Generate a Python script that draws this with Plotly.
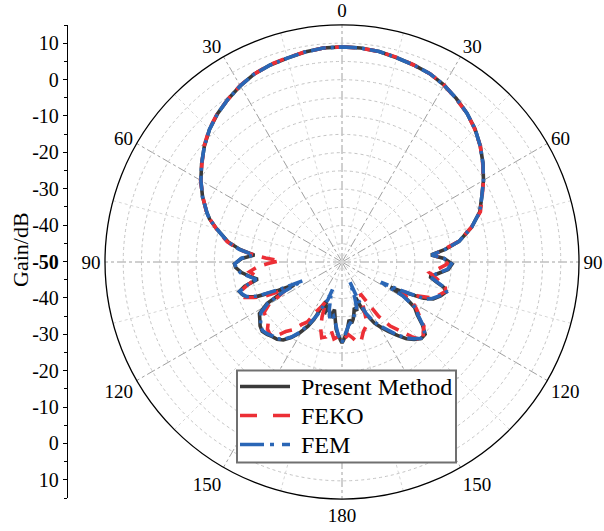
import plotly.graph_objects as go

# ---------------- data (theta in degrees, clockwise from top; gain in dB) ----------------
pm_theta = [0, 5, 10, 15, 20, 25, 30, 35, 40, 45, 50, 55, 60, 65, 70, 75, 80, 83, 85.5, 88, 91, 94, 97, 99.5,
            102, 104, 106, 109, 112, 114, 116, 117.5, 119, 122, 125, 128, 131, 134, 137, 140, 143, 146, 149,
            152, 155, 157, 159, 161, 163, 165, 167, 169, 171, 173, 175, 177, 179, 180,
            181, 183, 185, 187, 189, 191, 193, 195, 197, 199, 201.5, 204, 206, 208, 211, 214, 217, 220, 223,
            226, 229, 232, 235, 238, 241, 243, 244.5, 246, 248, 250, 252, 254, 256, 258.5, 261, 264, 267,
            269, 272, 274.5, 277, 280, 285, 288, 290, 295, 300, 305, 310, 315, 320, 325, 330, 335, 340, 345,
            350, 355, 360]
pm_gain = [9.0, 8.9, 8.6, 8.0, 7.5, 7.0, 6.0, 4.7, 3.3, 1.6, -0.5, -2.8, -5.2, -7.7, -9.8, -13.2, -17.4, -21.5,
           -25.5, -22.0, -19.8, -20.8, -23.6, -25.6, -23.5, -21.2, -20.3, -21.4, -23.0, -25.5, -31.0, -35.0,
           -30.5, -26.5, -24.8, -22.0, -19.8, -19.8, -21.0, -22.5, -24.8, -27.0, -29.0, -31.0, -34.0, -36.5,
           -39.5, -38.0, -36.0, -37.0, -35.5, -34.0, -33.0, -34.0, -32.0, -30.0, -28.5, -27.8,
           -28.5, -30.0, -31.5, -34.5, -36.8, -34.4, -35.5, -36.5, -36.8, -35.0, -38.5, -37.0, -32.5, -30.0,
           -27.2, -25.0, -23.2, -22.3, -22.0, -21.4, -21.0, -21.5, -22.5, -23.3, -26.5, -31.5, -35.5, -31.0,
           -24.5, -22.0, -21.2, -20.7, -22.5, -26.4, -24.5, -22.3, -20.8, -20.5, -22.5, -25.9, -21.8, -18.3,
           -14.3, -11.8, -10.6, -7.8, -5.3, -3.0, -0.7, 1.4, 3.1, 4.5, 5.8, 6.9, 7.5, 7.9, 8.5, 8.9, 9.0]

feko_theta = [0, 5, 10, 15, 20, 25, 30, 35, 40, 45, 50, 55, 60, 65, 70, 75, 80, 83, 85.5, 88, 91, 94, 97, 99.5,
              102, 104, 106, 109, 112, 114, 116, 118, 120, 122, 125, 128, 131, 134, 137, 140, 143, 146, 148,
              150, 152, 155, 157, 160, 163, 166, 169, 172, 175, 178, 180,
              183, 186, 189, 192, 195, 198, 200, 202, 204, 207, 210, 213, 216, 219, 222, 225, 228, 231, 234,
              237, 240, 242, 244, 246, 248, 250, 252, 254, 256, 258.5, 261, 264, 267, 269, 271, 273, 275, 277,
              280, 285, 288, 290, 295, 300, 305, 310, 315, 320, 325, 330, 335, 340, 345, 350, 355, 360]
feko_gain = [9.0, 8.9, 8.6, 8.1, 7.5, 7.0, 6.0, 4.6, 3.3, 1.5, -0.5, -2.9, -5.2, -7.6, -9.6, -13.3, -17.5, -21.8,
             -25.0, -22.5, -21.0, -23.5, -25.8, -24.0, -22.0, -20.8, -20.5, -22.0, -24.0, -27.0, -31.5, -30.5,
             -27.5, -26.0, -24.0, -21.5, -20.5, -19.0, -22.0, -25.5, -28.0, -32.0, -37.0, -40.0, -38.0, -36.0,
             -33.0, -31.0, -30.0, -28.0, -27.5, -29.0, -30.0, -29.0, -28.5,
             -29.5, -28.8, -31.0, -29.0, -28.5, -31.0, -34.0, -38.5, -37.0, -35.0, -31.0, -29.5, -27.0, -25.5,
             -22.5, -22.0, -22.5, -24.0, -24.3, -24.5, -27.0, -31.0, -33.0, -27.0, -24.0, -21.5, -21.0, -21.2,
             -23.0, -25.5, -26.0, -24.5, -27.0, -30.0, -33.0, -29.0, -25.0, -21.5, -18.0, -14.2, -11.9, -10.5,
             -7.9, -5.2, -3.1, -0.6, 1.5, 3.2, 4.5, 5.9, 6.9, 7.6, 8.0, 8.5, 8.9, 9.0]

fem_theta = [0, 5, 10, 15, 20, 25, 30, 35, 40, 45, 50, 55, 60, 65, 70, 75, 80, 83, 85.5, 88, 91, 94, 97, 99.5,
             102, 104, 106, 109, 112, 114, 116, 117.5, 119, 122, 125, 128, 131, 134, 137, 140, 143, 146, 149,
             152, 155, 157, 158.5, 160, 162, 165, 168, 171, 174, 177, 180,
             183, 186, 189, 192, 195, 198, 199, 200.5, 202.5, 205, 208, 211, 214, 217, 220, 223, 226, 229,
             232, 235, 238, 241, 243, 244.5, 246, 248, 250, 252, 254, 256, 258.5, 261, 264, 267, 269, 272,
             274.5, 277, 280, 285, 288, 290, 295, 300, 305, 310, 315, 320, 325, 330, 335, 340, 345, 350, 355, 360]
fem_gain = [9.0, 8.9, 8.6, 8.0, 7.5, 7.0, 6.0, 4.7, 3.3, 1.6, -0.5, -2.8, -5.2, -7.7, -9.8, -13.2, -17.4, -21.5,
            -25.3, -22.0, -20.0, -21.0, -23.8, -25.4, -23.2, -21.0, -20.2, -21.6, -23.3, -25.0, -33.0, -38.0,
            -31.0, -26.0, -24.5, -21.8, -19.9, -19.9, -21.2, -22.8, -25.0, -27.5, -29.5, -31.5, -34.5, -39.0,
            -44.0, -40.0, -37.0, -36.0, -34.5, -33.5, -32.5, -30.5, -28.0,
            -30.0, -33.0, -35.0, -34.0, -36.5, -40.0, -42.0, -39.0, -37.5, -34.0, -30.5, -27.5, -25.2, -23.5,
            -22.5, -22.2, -21.6, -21.2, -21.6, -22.8, -23.8, -26.8, -32.0, -38.0, -32.5, -25.0, -22.2, -21.3,
            -20.8, -22.7, -26.0, -24.3, -22.0, -20.9, -20.6, -22.3, -25.6, -21.6, -18.2, -14.3, -11.8, -10.6,
            -7.8, -5.3, -3.0, -0.7, 1.4, 3.1, 4.5, 5.8, 6.9, 7.5, 7.9, 8.5, 8.9, 9.0]

series_names = ["Present Method", "FEKO", "FEM"]

angle_ticks = [0, 30, 60, 90, 120, 150, 180, 210, 240, 270, 300, 330]
angle_labels = ["0", "30", "60", "90", "120", "150", "180", "150", "120", "90", "60", "30"]
minor_spokes = [15, 45, 75, 105, 135, 165, 195, 225, 255, 285, 315, 345]
radial_grid = [-45, -40, -35, -30, -25, -20, -15, -10, -5, 0, 5, 10]

gain_tickvals = [-60, -50, -40, -30, -20, -10, 0, 10, 20, 30, 40, 50, 60]
gain_ticktext = ["10", "0", "-10", "-20", "-30", "-40", "<b>-50</b>", "-40", "-30", "-20", "-10", "0", "10"]
gain_minor = [-65, -55, -45, -35, -25, -15, -5, 5, 15, 25, 35, 45, 55, 65]

# ---------------- figure ----------------
W, H = 604, 531
FONT = "Liberation Serif"
R_MIN, R_MAX = -50, 15

colors = ["#3a3a3a", "#ec2f36", "#2a66b6"]
dashes_plot = ["solid", "13px,9px", "15px,5px,3px,5px"]
dashes_leg = ["solid", "17px,16px", "24px,6px,4px,8px"]

fig = go.Figure()

# minor (15 deg) spokes
for a in minor_spokes:
    fig.add_trace(go.Scatterpolar(r=[R_MIN, R_MAX], theta=[a, a], mode="lines",
                                  line=dict(color="#d6d6d6", width=1, dash="dot"),
                                  showlegend=False, hoverinfo="skip"))

for th, g, name, c, d in zip([pm_theta, feko_theta, fem_theta], [pm_gain, feko_gain, fem_gain],
                             series_names, colors, dashes_plot):
    fig.add_trace(go.Scatterpolar(r=g, theta=th, mode="lines", name=name,
                                  line=dict(color=c, width=3.6, dash=d), showlegend=False))

# invisible cartesian trace to show the left Gain axis
fig.add_trace(go.Scatter(x=[0], y=[0], mode="markers", marker=dict(opacity=0),
                         showlegend=False, hoverinfo="skip", xaxis="x", yaxis="y"))

cx, cy, rad = 342, 262, 237
fig.update_layout(
    width=W, height=H,
    margin=dict(l=0, r=0, t=0, b=0),
    paper_bgcolor="white", plot_bgcolor="white",
    font=dict(family=FONT, size=20, color="black"),
    polar=dict(
        domain=dict(x=[(cx - rad) / W, (cx + rad) / W], y=[1 - (cy + rad) / H, 1 - (cy - rad) / H]),
        bgcolor="white",
        angularaxis=dict(rotation=90, direction="clockwise", tickmode="array",
                         tickvals=angle_ticks, ticktext=angle_labels, ticks="",
                         showline=True, linecolor="black", linewidth=1.3,
                         gridcolor="#a0a0a0", griddash="dashdot", gridwidth=1,
                         tickfont=dict(family=FONT, size=19, color="black")),
        radialaxis=dict(range=[R_MIN, R_MAX], tickmode="array", tickvals=radial_grid,
                        showticklabels=False, ticks="", showline=False,
                        gridcolor="#c4c4c4", griddash="dot", gridwidth=1),
    ),
    xaxis=dict(domain=[0, 0.05], visible=False, range=[-1, 1]),
    yaxis=dict(domain=[1 - 498 / H, 1 - 25 / H], range=[-65, 65], anchor="free", position=67 / W,
               tickmode="array", tickvals=gain_tickvals, ticktext=gain_ticktext,
               ticks="outside", ticklen=4, tickwidth=1.2, tickcolor="black",
               showline=True, linecolor="black", linewidth=1.3, showgrid=False, zeroline=False,
               tickfont=dict(family=FONT, size=20, color="black"),
               minor=dict(tickvals=gain_minor, ticks="outside", ticklen=3, tickwidth=1.2, tickcolor="black",
                          showgrid=False)),
)

fig.add_annotation(text="Gain/dB", textangle=-90, x=20 / W, y=1 - 250 / H, xref="paper", yref="paper",
                   xanchor="center", yanchor="middle",
                   showarrow=False, font=dict(family=FONT, size=22, color="black"))

# legend drawn manually
bx0, by0, bx1, by1 = 237, 370.5, 456, 462.5
fig.add_shape(type="rect", xref="paper", yref="paper", x0=bx0 / W, x1=bx1 / W, y0=1 - by1 / H, y1=1 - by0 / H,
              line=dict(color="#707070", width=2), fillcolor="white", layer="above")
rows = [386.5, 415.5, 444.5]
for name, c, d, yy in zip(series_names, colors, dashes_leg, rows):
    fig.add_shape(type="line", xref="paper", yref="paper", x0=240 / W, x1=290 / W, y0=1 - yy / H, y1=1 - yy / H,
                  line=dict(color=c, width=3.6, dash=d), layer="above")
    fig.add_annotation(text=name, x=299 / W, y=1 - yy / H, xref="paper", yref="paper", xanchor="left",
                       yanchor="middle", showarrow=False, font=dict(family=FONT, size=24, color="black"))

fig.write_html("out.html")
